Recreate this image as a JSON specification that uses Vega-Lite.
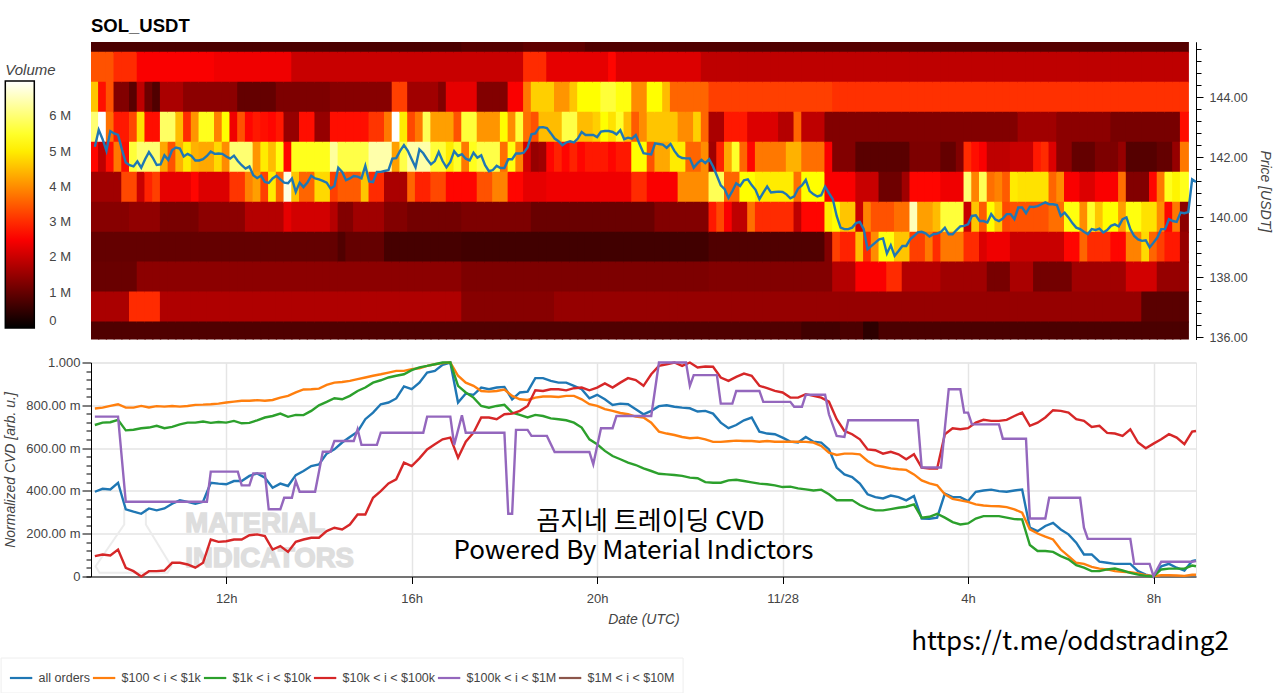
{"$schema":"https://vega.github.io/schema/vega-lite/v6.json","background":"white","padding":{"top":16,"left":0,"right":4,"bottom":0},"bounds":"flush","spacing":22.5,
"config":{"view":{"stroke":null},"axis":{"labelFont":"Liberation Sans","labelFontSize":13,"labelColor":"#444444","titleFont":"Liberation Sans","titleFontSize":14,"titleFontStyle":"italic","titleFontWeight":"normal","titleColor":"#444444","domainColor":"#000000","tickColor":"#000000"},"legend":{"labelFont":"Liberation Sans","titleFont":"Liberation Sans"}},
"datasets":{
"heat":[
{"t":"2025-11-27T09:10Z","146":0.75,"145":3.4,"144":4.6,"143":6,"142":2.6,"141":1.6,"140":1.35,"139":1,"138":1.05,"137":1.7,"136":0.8},
{"t":"2025-11-27T09:20Z","146":0.75,"145":3.4,"144":2.7,"143":7,"142":1.9,"141":1.6,"140":1.35,"139":1,"138":1.05,"137":1.7,"136":0.8},
{"t":"2025-11-27T09:30Z","146":0.75,"145":3.4,"144":3.4,"143":3.7,"142":2.7,"141":1.6,"140":1.35,"139":1,"138":1.05,"137":1.7,"136":0.8},
{"t":"2025-11-27T09:40Z","146":0.75,"145":3,"144":1.3,"143":2.8,"142":3.8,"141":1.6,"140":1.35,"139":1,"138":1.05,"137":1.7,"136":0.8},
{"t":"2025-11-27T09:50Z","146":0.75,"145":3,"144":1.3,"143":2.8,"142":2.7,"141":3.3,"140":1.35,"139":1,"138":1.05,"137":1.7,"136":0.8},
{"t":"2025-11-27T10:00Z","146":0.75,"145":3,"144":0.9,"143":3.3,"142":5.6,"141":3.3,"140":1.45,"139":1,"138":1.05,"137":3,"136":0.8},
{"t":"2025-11-27T10:10Z","146":0.75,"145":2.5,"144":1.9,"143":4.9,"142":6,"141":2,"140":1.45,"139":1,"138":1.4,"137":3,"136":0.8},
{"t":"2025-11-27T10:20Z","146":0.75,"145":2.5,"144":1.1,"143":2.7,"142":6,"141":2.9,"140":1.45,"139":1,"138":1.4,"137":3,"136":0.8},
{"t":"2025-11-27T10:30Z","146":0.75,"145":2.5,"144":0.8,"143":2.7,"142":6,"141":3.2,"140":1.45,"139":1,"138":1.4,"137":3,"136":0.8},
{"t":"2025-11-27T10:40Z","146":0.75,"145":2.5,"144":1.7,"143":5.9,"142":4.3,"141":2.3,"140":1.2,"139":1,"138":1.4,"137":1.75,"136":0.8},
{"t":"2025-11-27T10:50Z","146":0.75,"145":2.5,"144":1.7,"143":5.9,"142":3.4,"141":2.3,"140":1.2,"139":1,"138":1.4,"137":1.75,"136":0.8},
{"t":"2025-11-27T11:00Z","146":0.75,"145":2.5,"144":1.7,"143":4.5,"142":4.4,"141":2.3,"140":1.2,"139":1,"138":1.4,"137":1.75,"136":0.8},
{"t":"2025-11-27T11:10Z","146":0.75,"145":2.5,"144":1.4,"143":3,"142":5,"141":2.3,"140":1.2,"139":1,"138":1.4,"137":1.75,"136":0.8},
{"t":"2025-11-27T11:20Z","146":0.75,"145":2.5,"144":1.4,"143":4.1,"142":4.4,"141":2.6,"140":1.2,"139":1,"138":1.4,"137":1.75,"136":0.8},
{"t":"2025-11-27T11:30Z","146":0.75,"145":2.5,"144":1.4,"143":5.4,"142":4.3,"141":2.2,"140":1.4,"139":1,"138":1.4,"137":1.75,"136":0.8},
{"t":"2025-11-27T11:40Z","146":0.75,"145":2.5,"144":1.4,"143":5.4,"142":4.3,"141":2.2,"140":1.4,"139":1,"138":1.4,"137":1.75,"136":0.8},
{"t":"2025-11-27T11:50Z","146":0.75,"145":2.4,"144":1.4,"143":3.9,"142":4.8,"141":2.2,"140":1.4,"139":1,"138":1.4,"137":1.75,"136":0.8},
{"t":"2025-11-27T12:00Z","146":0.75,"145":2.4,"144":1.4,"143":5.2,"142":4,"141":2.2,"140":1.4,"139":1,"138":1.4,"137":1.75,"136":0.8},
{"t":"2025-11-27T12:10Z","146":0.75,"145":2.4,"144":1.4,"143":2.4,"142":6,"141":3.1,"140":1.4,"139":1,"138":1.4,"137":1.75,"136":0.8},
{"t":"2025-11-27T12:20Z","146":0.75,"145":2.4,"144":1,"143":3.4,"142":6,"141":3.1,"140":1.4,"139":1,"138":1.4,"137":1.75,"136":0.8},
{"t":"2025-11-27T12:30Z","146":0.75,"145":2.4,"144":1,"143":2.6,"142":6,"141":3.9,"140":1.8,"139":1,"138":1.4,"137":1.75,"136":0.8},
{"t":"2025-11-27T12:40Z","146":0.75,"145":2.4,"144":1,"143":2.8,"142":4.1,"141":4.2,"140":1.8,"139":1,"138":1.4,"137":1.75,"136":0.8},
{"t":"2025-11-27T12:50Z","146":0.75,"145":2.4,"144":1,"143":2.7,"142":5,"141":3.2,"140":1.8,"139":1,"138":1.4,"137":1.75,"136":0.8},
{"t":"2025-11-27T13:00Z","146":0.75,"145":2.4,"144":1,"143":2.6,"142":4.5,"141":5,"140":1.8,"139":1,"138":1.4,"137":1.75,"136":0.8},
{"t":"2025-11-27T13:10Z","146":0.75,"145":2.4,"144":1.25,"143":2.8,"142":5.3,"141":3.6,"140":1.8,"139":1,"138":1.4,"137":1.75,"136":0.8},
{"t":"2025-11-27T13:20Z","146":0.75,"145":2.4,"144":1.25,"143":1.5,"142":2.6,"141":6.8,"140":2.3,"139":1,"138":1.4,"137":1.75,"136":0.8},
{"t":"2025-11-27T13:30Z","146":0.75,"145":2,"144":1.25,"143":1.5,"142":5.4,"141":4.6,"140":2.1,"139":1,"138":1.4,"137":1.75,"136":0.8},
{"t":"2025-11-27T13:40Z","146":0.75,"145":2,"144":1.25,"143":2.7,"142":5.4,"141":3.6,"140":2.1,"139":1,"138":1.4,"137":1.75,"136":0.8},
{"t":"2025-11-27T13:50Z","146":0.75,"145":2,"144":1.25,"143":2.7,"142":5.4,"141":3.6,"140":2.1,"139":1,"138":1.4,"137":1.75,"136":0.8},
{"t":"2025-11-27T14:00Z","146":0.75,"145":2,"144":1.25,"143":1.5,"142":5.4,"141":4.8,"140":2.1,"139":1,"138":1.4,"137":1.75,"136":0.8},
{"t":"2025-11-27T14:10Z","146":0.75,"145":2,"144":1.25,"143":1.5,"142":5.4,"141":4.8,"140":2.1,"139":1,"138":1.4,"137":1.75,"136":0.8},
{"t":"2025-11-27T14:20Z","146":0.75,"145":2,"144":1.35,"143":2.7,"142":6.3,"141":3.2,"140":1.8,"139":1,"138":1.4,"137":1.75,"136":0.8},
{"t":"2025-11-27T14:30Z","146":0.75,"145":2,"144":1.35,"143":2.7,"142":5.7,"141":3.5,"140":1.3,"139":0.8,"138":1.4,"137":1.75,"136":0.8},
{"t":"2025-11-27T14:40Z","146":0.75,"145":2,"144":1.35,"143":2.7,"142":5.7,"141":3.5,"140":1.3,"139":1,"138":1.4,"137":1.75,"136":0.8},
{"t":"2025-11-27T14:50Z","146":0.75,"145":2,"144":1.35,"143":2.7,"142":5.7,"141":3.5,"140":1.6,"139":1,"138":1.4,"137":1.75,"136":0.8},
{"t":"2025-11-27T15:00Z","146":0.75,"145":2,"144":1.35,"143":2.7,"142":5.7,"141":4.6,"140":1.6,"139":1,"138":1.4,"137":1.75,"136":0.8},
{"t":"2025-11-27T15:10Z","146":0.75,"145":2,"144":1.35,"143":3.1,"142":6.4,"141":3,"140":1.6,"139":1,"138":1.4,"137":1.75,"136":0.8},
{"t":"2025-11-27T15:20Z","146":0.75,"145":2,"144":1.35,"143":3.1,"142":6.4,"141":3,"140":1.6,"139":1,"138":1.4,"137":1.75,"136":0.8},
{"t":"2025-11-27T15:30Z","146":0.75,"145":2,"144":1.35,"143":3.8,"142":6.4,"141":1.7,"140":1.3,"139":0.7,"138":1.4,"137":1.75,"136":0.8},
{"t":"2025-11-27T15:40Z","146":0.75,"145":2,"144":3.2,"143":7,"142":4.2,"141":1.7,"140":1.3,"139":0.7,"138":1.4,"137":1.75,"136":0.8},
{"t":"2025-11-27T15:50Z","146":0.75,"145":2,"144":3.2,"143":5,"142":5.7,"141":1.7,"140":1.3,"139":0.7,"138":1.4,"137":1.75,"136":0.8},
{"t":"2025-11-27T16:00Z","146":0.75,"145":2,"144":1.6,"143":3.3,"142":6.4,"141":3.6,"140":1.15,"139":0.7,"138":1.4,"137":1.75,"136":0.8},
{"t":"2025-11-27T16:10Z","146":0.75,"145":2,"144":1.6,"143":3.8,"142":6.4,"141":2.9,"140":1.15,"139":0.7,"138":1.4,"137":1.75,"136":0.8},
{"t":"2025-11-27T16:20Z","146":0.75,"145":2,"144":1.6,"143":5.8,"142":6.4,"141":2.9,"140":1.15,"139":0.7,"138":1.4,"137":1.75,"136":0.8},
{"t":"2025-11-27T16:30Z","146":0.75,"145":2,"144":1.6,"143":4.2,"142":5.6,"141":3.3,"140":1.15,"139":0.7,"138":1.4,"137":1.75,"136":0.8},
{"t":"2025-11-27T16:40Z","146":0.75,"145":2,"144":1.3,"143":4.2,"142":5.6,"141":3.3,"140":1.15,"139":0.7,"138":1.4,"137":1.75,"136":0.8},
{"t":"2025-11-27T16:50Z","146":0.75,"145":2,"144":2.3,"143":4.2,"142":5,"141":2.6,"140":1.15,"139":0.7,"138":1.4,"137":1.75,"136":0.8},
{"t":"2025-11-27T17:00Z","146":0.75,"145":2,"144":2.3,"143":3.4,"142":5.5,"141":2.6,"140":1.15,"139":0.7,"138":1.4,"137":1.75,"136":0.8},
{"t":"2025-11-27T17:10Z","146":0.85,"145":2,"144":2.3,"143":5.6,"142":3.8,"141":2.6,"140":1.25,"139":0.65,"138":1.25,"137":1.35,"136":0.8},
{"t":"2025-11-27T17:20Z","146":0.85,"145":2,"144":2.3,"143":5.6,"142":5.4,"141":2.6,"140":1.25,"139":0.65,"138":1.25,"137":1.35,"136":0.8},
{"t":"2025-11-27T17:30Z","146":0.85,"145":2,"144":1.3,"143":4.1,"142":5.7,"141":3.4,"140":1.25,"139":0.65,"138":1.25,"137":1.35,"136":0.8},
{"t":"2025-11-27T17:40Z","146":0.85,"145":2,"144":1.3,"143":4.1,"142":5.7,"141":3.4,"140":1.25,"139":0.65,"138":1.25,"137":1.35,"136":0.8},
{"t":"2025-11-27T17:50Z","146":0.85,"145":2,"144":1.3,"143":4.1,"142":5.7,"141":3.9,"140":1.25,"139":0.65,"138":1.25,"137":1.35,"136":0.8},
{"t":"2025-11-27T18:00Z","146":0.85,"145":2,"144":1.3,"143":5.2,"142":3.7,"141":3.9,"140":1.25,"139":0.65,"138":1.25,"137":1.35,"136":0.8},
{"t":"2025-11-27T18:10Z","146":0.85,"145":2,"144":2.5,"143":4,"142":5.3,"141":2.6,"140":1.25,"139":0.65,"138":1.25,"137":1.35,"136":0.8},
{"t":"2025-11-27T18:20Z","146":0.85,"145":2,"144":2.5,"143":5.6,"142":3.9,"141":2.6,"140":1.25,"139":0.65,"138":1.25,"137":1.35,"136":0.8},
{"t":"2025-11-27T18:30Z","146":0.95,"145":3,"144":3.8,"143":3.7,"142":2.1,"141":2.3,"140":1.25,"139":0.65,"138":1.25,"137":1.35,"136":0.8},
{"t":"2025-11-27T18:40Z","146":0.95,"145":3,"144":4.7,"143":3.4,"142":1.5,"141":2.3,"140":1.05,"139":0.65,"138":1.25,"137":1.35,"136":0.8},
{"t":"2025-11-27T18:50Z","146":0.95,"145":3,"144":4.7,"143":4.5,"142":1.6,"141":2.3,"140":1.05,"139":0.65,"138":1.25,"137":1.35,"136":0.8},
{"t":"2025-11-27T19:00Z","146":0.95,"145":2.3,"144":4.7,"143":4.5,"142":2.6,"141":2.4,"140":1.05,"139":0.65,"138":1.25,"137":1.35,"136":0.8},
{"t":"2025-11-27T19:10Z","146":0.95,"145":2.3,"144":4.1,"143":4.5,"142":2.9,"141":2.4,"140":1.05,"139":0.65,"138":1.25,"137":1.5,"136":0.8},
{"t":"2025-11-27T19:20Z","146":0.95,"145":2.3,"144":4.1,"143":5.7,"142":2.6,"141":2.4,"140":1.05,"139":0.65,"138":1.25,"137":1.5,"136":0.8},
{"t":"2025-11-27T19:30Z","146":0.95,"145":2.3,"144":4.6,"143":5.7,"142":2.9,"141":2.4,"140":1.05,"139":0.65,"138":1.25,"137":1.5,"136":0.8},
{"t":"2025-11-27T19:40Z","146":0.95,"145":2.3,"144":5.2,"143":4.5,"142":2.6,"141":2.4,"140":1.05,"139":0.65,"138":1.25,"137":1.5,"136":0.8},
{"t":"2025-11-27T19:50Z","146":0.8,"145":2.3,"144":5.2,"143":4.5,"142":2.8,"141":2.4,"140":1.05,"139":0.65,"138":1.25,"137":1.5,"136":0.8},
{"t":"2025-11-27T20:00Z","146":0.8,"145":2.3,"144":5.2,"143":4.7,"142":2.8,"141":2.4,"140":1.05,"139":0.65,"138":1.25,"137":1.5,"136":0.8},
{"t":"2025-11-27T20:10Z","146":0.8,"145":2.3,"144":5.6,"143":5.2,"142":2.8,"141":2.4,"140":1.05,"139":0.65,"138":1.25,"137":1.5,"136":0.8},
{"t":"2025-11-27T20:20Z","146":0.8,"145":2.6,"144":5.6,"143":4.9,"142":2.6,"141":2.4,"140":1.05,"139":0.65,"138":1.25,"137":1.5,"136":0.8},
{"t":"2025-11-27T20:30Z","146":0.8,"145":2.2,"144":5.3,"143":5.5,"142":2.8,"141":2.4,"140":1.05,"139":0.65,"138":1.25,"137":1.5,"136":0.8},
{"t":"2025-11-27T20:40Z","146":0.8,"145":2.2,"144":5.3,"143":4.5,"142":2.8,"141":2.4,"140":1.05,"139":0.65,"138":1.25,"137":1.5,"136":0.8},
{"t":"2025-11-27T20:50Z","146":0.8,"145":2.2,"144":4,"143":3.5,"142":5.2,"141":3,"140":1.05,"139":0.65,"138":1.25,"137":1.5,"136":0.8},
{"t":"2025-11-27T21:00Z","146":0.8,"145":2.2,"144":4,"143":4,"142":5.2,"141":3,"140":1.05,"139":0.65,"138":1.25,"137":1.5,"136":0.8},
{"t":"2025-11-27T21:10Z","146":0.8,"145":2.2,"144":5.2,"143":4.6,"142":3.4,"141":2.5,"140":1.05,"139":0.65,"138":1.25,"137":1.5,"136":0.8},
{"t":"2025-11-27T21:20Z","146":0.8,"145":2.2,"144":5.2,"143":4.6,"142":4.3,"141":2.5,"140":1.3,"139":0.65,"138":1.25,"137":1.5,"136":0.8},
{"t":"2025-11-27T21:30Z","146":0.8,"145":2.2,"144":4.5,"143":4.6,"142":4.3,"141":2.5,"140":1.3,"139":0.65,"138":1.25,"137":1.5,"136":0.8},
{"t":"2025-11-27T21:40Z","146":0.8,"145":2.2,"144":3.6,"143":4.6,"142":5,"141":2.5,"140":1.3,"139":0.65,"138":1.25,"137":1.5,"136":0.8},
{"t":"2025-11-27T21:50Z","146":0.8,"145":2.2,"144":3.6,"143":4,"142":5,"141":4,"140":1.3,"139":0.65,"138":1.25,"137":1.5,"136":0.8},
{"t":"2025-11-27T22:00Z","146":0.8,"145":2.2,"144":3.6,"143":4,"142":3.6,"141":4,"140":1.3,"139":0.65,"138":1.25,"137":1.5,"136":0.8},
{"t":"2025-11-27T22:10Z","146":0.8,"145":2.2,"144":3.6,"143":4.7,"142":3.6,"141":4,"140":1.3,"139":0.65,"138":1.25,"137":1.5,"136":0.8},
{"t":"2025-11-27T22:20Z","146":0.8,"145":1.9,"144":3.6,"143":3.6,"142":4,"141":4,"140":1.3,"139":0.65,"138":1.25,"137":1.5,"136":0.8},
{"t":"2025-11-27T22:30Z","146":0.8,"145":1.9,"144":3.2,"143":1.7,"142":1.6,"141":5.8,"140":2.8,"139":0.8,"138":1.3,"137":1.5,"136":0.8},
{"t":"2025-11-27T22:40Z","146":0.8,"145":1.9,"144":3.2,"143":1.7,"142":2.9,"141":5.8,"140":3.3,"139":0.8,"138":1.3,"137":1.5,"136":0.8},
{"t":"2025-11-27T22:50Z","146":0.8,"145":1.9,"144":3.2,"143":2.8,"142":4.3,"141":3.6,"140":2.5,"139":0.8,"138":1.3,"137":1.5,"136":0.8},
{"t":"2025-11-27T23:00Z","146":0.8,"145":1.9,"144":3.2,"143":2.8,"142":5.5,"141":3.6,"140":1.9,"139":0.8,"138":1.3,"137":1.5,"136":0.8},
{"t":"2025-11-27T23:10Z","146":0.8,"145":1.9,"144":3.2,"143":2.8,"142":3.6,"141":5.2,"140":1.9,"139":0.8,"138":1.3,"137":1.5,"136":0.8},
{"t":"2025-11-27T23:20Z","146":0.8,"145":1.9,"144":3.2,"143":2.2,"142":2.6,"141":5.2,"140":3.7,"139":0.8,"138":1.3,"137":1.5,"136":0.8},
{"t":"2025-11-27T23:30Z","146":0.8,"145":1.9,"144":3.2,"143":2.2,"142":3.8,"141":5,"140":3,"139":0.8,"138":1.3,"137":1.5,"136":0.8},
{"t":"2025-11-27T23:40Z","146":0.8,"145":1.9,"144":3.2,"143":2.2,"142":3.8,"141":5,"140":3,"139":0.8,"138":1.3,"137":1.5,"136":0.8},
{"t":"2025-11-27T23:50Z","146":0.8,"145":1.9,"144":3.2,"143":2.2,"142":3.8,"141":5,"140":3,"139":0.8,"138":1.3,"137":1.5,"136":0.8},
{"t":"2025-11-28T00:00Z","146":0.8,"145":1.9,"144":3.2,"143":1.8,"142":3.8,"141":5,"140":3,"139":0.8,"138":1.3,"137":1.5,"136":0.8},
{"t":"2025-11-28T00:10Z","146":0.8,"145":1.9,"144":3.2,"143":1.8,"142":4.4,"141":5,"140":3,"139":0.8,"138":1.3,"137":1.5,"136":0.8},
{"t":"2025-11-28T00:20Z","146":0.8,"145":1.9,"144":3.2,"143":3.6,"142":4.4,"141":3.7,"140":1.9,"139":0.8,"138":1.3,"137":1.5,"136":0.8},
{"t":"2025-11-28T00:30Z","146":0.8,"145":1.9,"144":3.2,"143":1.9,"142":3.7,"141":5.2,"140":2.6,"139":0.8,"138":1.3,"137":1.5,"136":0.65},
{"t":"2025-11-28T00:40Z","146":0.8,"145":1.9,"144":3.2,"143":1.9,"142":3.7,"141":5.2,"140":2.6,"139":0.8,"138":1.3,"137":1.5,"136":0.65},
{"t":"2025-11-28T00:50Z","146":0.8,"145":1.9,"144":3.2,"143":1.9,"142":3.7,"141":5.2,"140":2.6,"139":0.8,"138":1.3,"137":1.5,"136":0.65},
{"t":"2025-11-28T01:00Z","146":0.8,"145":1.9,"144":3.2,"143":1.3,"142":2.5,"141":2.5,"140":5,"139":1.3,"138":1.3,"137":1.5,"136":0.65},
{"t":"2025-11-28T01:10Z","146":0.8,"145":1.9,"144":3.05,"143":1.3,"142":1.3,"141":2.5,"140":5.2,"139":3.2,"138":1.8,"137":1.5,"136":0.65},
{"t":"2025-11-28T01:20Z","146":0.85,"145":1.9,"144":3.05,"143":1.3,"142":1.3,"141":2.5,"140":4.6,"139":2.9,"138":1.8,"137":1.5,"136":0.75},
{"t":"2025-11-28T01:30Z","146":0.85,"145":1.9,"144":3.05,"143":1.3,"142":1.3,"141":2.5,"140":4.6,"139":2.9,"138":1.8,"137":1.5,"136":0.75},
{"t":"2025-11-28T01:40Z","146":0.85,"145":1.9,"144":3.05,"143":1.3,"142":0.9,"141":2,"140":2,"139":4.5,"138":2.5,"137":1.5,"136":0.75},
{"t":"2025-11-28T01:50Z","146":0.85,"145":1.9,"144":3.05,"143":1.3,"142":0.9,"141":2,"140":3.9,"139":3,"138":2.5,"137":1.5,"136":0.45},
{"t":"2025-11-28T02:00Z","146":0.85,"145":1.9,"144":3.05,"143":1.3,"142":0.9,"141":2,"140":3.4,"139":4,"138":2.5,"137":1.5,"136":0.45},
{"t":"2025-11-28T02:10Z","146":0.85,"145":1.9,"144":3.05,"143":1.3,"142":0.9,"141":1.1,"140":3.4,"139":5.3,"138":2.5,"137":1.5,"136":0.75},
{"t":"2025-11-28T02:20Z","146":0.85,"145":1.9,"144":3.05,"143":1.3,"142":0.9,"141":1.1,"140":3.4,"139":5.3,"138":3,"137":1.5,"136":0.75},
{"t":"2025-11-28T02:30Z","146":0.85,"145":1.9,"144":3.05,"143":1.3,"142":0.9,"141":1.1,"140":3.7,"139":4.6,"138":3,"137":1.5,"136":0.75},
{"t":"2025-11-28T02:40Z","146":0.85,"145":1.9,"144":3.05,"143":1.3,"142":0.9,"141":1.6,"140":3.7,"139":4.6,"138":1.8,"137":1.5,"136":0.75},
{"t":"2025-11-28T02:50Z","146":0.85,"145":1.9,"144":3.05,"143":1.3,"142":1.25,"141":2.6,"140":6.5,"139":3.2,"138":1.8,"137":1.5,"136":0.75},
{"t":"2025-11-28T03:00Z","146":0.85,"145":1.9,"144":3.05,"143":1.3,"142":1.25,"141":2.6,"140":4.2,"139":3.2,"138":1.8,"137":1.5,"136":0.75},
{"t":"2025-11-28T03:10Z","146":0.85,"145":1.9,"144":3.05,"143":1.3,"142":1.25,"141":2.6,"140":4.2,"139":3.8,"138":1.8,"137":1.5,"136":0.75},
{"t":"2025-11-28T03:20Z","146":0.85,"145":1.9,"144":3.05,"143":1.3,"142":1.25,"141":2.6,"140":4.5,"139":3,"138":1.8,"137":1.5,"136":0.75},
{"t":"2025-11-28T03:30Z","146":0.85,"145":1.9,"144":3.05,"143":1.3,"142":1,"141":2.4,"140":5.6,"139":3.8,"138":1.6,"137":1.5,"136":0.75},
{"t":"2025-11-28T03:40Z","146":0.85,"145":1.9,"144":3.05,"143":1.3,"142":1,"141":2.4,"140":5.6,"139":3.8,"138":1.6,"137":1.5,"136":0.75},
{"t":"2025-11-28T03:50Z","146":0.85,"145":1.9,"144":3.05,"143":1.3,"142":1.3,"141":2.4,"140":5.6,"139":3.8,"138":1.6,"137":1.5,"136":0.75},
{"t":"2025-11-28T04:00Z","146":0.85,"145":1.9,"144":3.05,"143":1.3,"142":3,"141":6,"140":2,"139":3,"138":1.6,"137":1.5,"136":0.75},
{"t":"2025-11-28T04:10Z","146":0.85,"145":1.9,"144":3.05,"143":1.3,"142":2.7,"141":3.9,"140":4.6,"139":3,"138":1.6,"137":1.5,"136":0.75},
{"t":"2025-11-28T04:20Z","146":0.85,"145":1.9,"144":3.05,"143":1.3,"142":2.5,"141":5.8,"140":3.5,"139":2.2,"138":1.6,"137":1.5,"136":0.75},
{"t":"2025-11-28T04:30Z","146":0.85,"145":1.9,"144":3.05,"143":1.3,"142":1.9,"141":3.7,"140":5.2,"139":2.4,"138":1.2,"137":1.5,"136":0.75},
{"t":"2025-11-28T04:40Z","146":0.85,"145":1.9,"144":3.05,"143":1.3,"142":1.9,"141":3.9,"140":4.6,"139":2.4,"138":1.2,"137":1.5,"136":0.75},
{"t":"2025-11-28T04:50Z","146":0.85,"145":1.9,"144":3.05,"143":1.3,"142":1.9,"141":3.5,"140":3.3,"139":2.4,"138":1.2,"137":1.5,"136":0.75},
{"t":"2025-11-28T05:00Z","146":0.85,"145":1.9,"144":3.05,"143":1.3,"142":2,"141":5,"140":3.4,"139":2,"138":1.7,"137":1.5,"136":0.75},
{"t":"2025-11-28T05:10Z","146":0.85,"145":1.9,"144":3.05,"143":1.6,"142":2,"141":4.9,"140":3.4,"139":2,"138":1.7,"137":1.5,"136":0.75},
{"t":"2025-11-28T05:20Z","146":0.85,"145":1.9,"144":3.05,"143":1.6,"142":2,"141":4.9,"140":3.4,"139":2,"138":1.7,"137":1.5,"136":0.75},
{"t":"2025-11-28T05:30Z","146":0.85,"145":1.9,"144":3.05,"143":1.6,"142":2.8,"141":4.9,"140":3.4,"139":2,"138":1.15,"137":1.5,"136":0.75},
{"t":"2025-11-28T05:40Z","146":0.85,"145":1.9,"144":3.05,"143":1.6,"142":3,"141":4.9,"140":3.4,"139":2,"138":1.15,"137":1.5,"136":0.75},
{"t":"2025-11-28T05:50Z","146":0.85,"145":1.9,"144":3.05,"143":1.6,"142":2.2,"141":3.6,"140":3.7,"139":2,"138":1.15,"137":1.5,"136":0.75},
{"t":"2025-11-28T06:00Z","146":0.85,"145":1.9,"144":3.05,"143":1.4,"142":1.4,"141":4,"140":3.7,"139":2,"138":1.15,"137":1.5,"136":0.75},
{"t":"2025-11-28T06:10Z","146":0.85,"145":1.9,"144":3.05,"143":1.4,"142":1.4,"141":2.5,"140":5.3,"139":2.6,"138":1.15,"137":1.5,"136":0.75},
{"t":"2025-11-28T06:20Z","146":0.85,"145":1.9,"144":3.05,"143":1.4,"142":1,"141":2.5,"140":5.3,"139":2.6,"138":1.6,"137":1.5,"136":0.75},
{"t":"2025-11-28T06:30Z","146":0.85,"145":1.9,"144":3.05,"143":1.4,"142":1,"141":2.2,"140":4,"139":3.6,"138":1.6,"137":1.5,"136":0.75},
{"t":"2025-11-28T06:40Z","146":0.85,"145":1.9,"144":3.05,"143":1.4,"142":1,"141":2.2,"140":5.5,"139":3,"138":1.6,"137":1.5,"136":0.75},
{"t":"2025-11-28T06:50Z","146":0.85,"145":1.9,"144":3.05,"143":1.4,"142":1.25,"141":2.5,"140":4.6,"139":3,"138":1.6,"137":1.5,"136":0.75},
{"t":"2025-11-28T07:00Z","146":0.85,"145":1.9,"144":3.05,"143":1.4,"142":1.25,"141":2.5,"140":5.2,"139":3,"138":1.6,"137":1.5,"136":0.75},
{"t":"2025-11-28T07:10Z","146":0.85,"145":1.9,"144":3.05,"143":1.2,"142":1.25,"141":2.5,"140":5.2,"139":2.6,"138":1.6,"137":1.5,"136":0.75},
{"t":"2025-11-28T07:20Z","146":0.85,"145":1.9,"144":3.05,"143":1.2,"142":1.5,"141":3.7,"140":4.2,"139":2.6,"138":1.6,"137":1.5,"136":0.75},
{"t":"2025-11-28T07:30Z","146":0.85,"145":1.9,"144":3.05,"143":1.2,"142":0.85,"141":1.3,"140":5.3,"139":3.9,"138":2.1,"137":1.5,"136":0.75},
{"t":"2025-11-28T07:40Z","146":0.85,"145":1.9,"144":3.05,"143":1.2,"142":0.85,"141":1.3,"140":5.3,"139":3.9,"138":2.1,"137":1.5,"136":0.75},
{"t":"2025-11-28T07:50Z","146":0.85,"145":1.9,"144":3.05,"143":1.2,"142":0.85,"141":1.3,"140":4.9,"139":4.8,"138":2.1,"137":0.9,"136":0.75},
{"t":"2025-11-28T08:00Z","146":0.85,"145":1.9,"144":3.05,"143":1.2,"142":0.85,"141":2.6,"140":4.9,"139":3.6,"138":2.1,"137":0.9,"136":0.75},
{"t":"2025-11-28T08:10Z","146":0.85,"145":1.9,"144":3.05,"143":1.2,"142":1,"141":3.8,"140":4,"139":3.2,"138":1.5,"137":0.9,"136":0.75},
{"t":"2025-11-28T08:20Z","146":0.85,"145":1.9,"144":3.05,"143":1.2,"142":1,"141":5.4,"140":2.6,"139":2.8,"138":1.5,"137":0.9,"136":0.75},
{"t":"2025-11-28T08:30Z","146":0.85,"145":1.9,"144":3.05,"143":1.2,"142":1.5,"141":5.1,"140":3.8,"139":2.8,"138":1.5,"137":0.9,"136":0.75},
{"t":"2025-11-28T08:40Z","146":0.85,"145":1.9,"144":3.05,"143":2.7,"142":3.8,"141":5.4,"140":1.4,"139":1.5,"138":1.5,"137":0.9,"136":0.75}
],
"price":[
{"t":"2025-11-27T09:10Z","price":142.35},{"t":"2025-11-27T09:15Z","price":142.91},{"t":"2025-11-27T09:20Z","price":142.6},{"t":"2025-11-27T09:25Z","price":142.21},{"t":"2025-11-27T09:30Z","price":142.87},{"t":"2025-11-27T09:35Z","price":142.79},{"t":"2025-11-27T09:40Z","price":142.74},{"t":"2025-11-27T09:45Z","price":142.26},{"t":"2025-11-27T09:50Z","price":141.82},{"t":"2025-11-27T09:55Z","price":141.73},
{"t":"2025-11-27T10:00Z","price":141.69},{"t":"2025-11-27T10:05Z","price":141.86},{"t":"2025-11-27T10:10Z","price":141.65},{"t":"2025-11-27T10:15Z","price":141.93},{"t":"2025-11-27T10:20Z","price":142.17},{"t":"2025-11-27T10:25Z","price":141.98},{"t":"2025-11-27T10:30Z","price":141.74},{"t":"2025-11-27T10:35Z","price":141.76},{"t":"2025-11-27T10:40Z","price":142.06},{"t":"2025-11-27T10:45Z","price":141.91},{"t":"2025-11-27T10:50Z","price":142.24},{"t":"2025-11-27T10:55Z","price":142.32},
{"t":"2025-11-27T11:00Z","price":142.29},{"t":"2025-11-27T11:05Z","price":142.02},{"t":"2025-11-27T11:10Z","price":142.11},{"t":"2025-11-27T11:15Z","price":142.04},{"t":"2025-11-27T11:20Z","price":141.89},{"t":"2025-11-27T11:25Z","price":141.89},{"t":"2025-11-27T11:30Z","price":141.93},{"t":"2025-11-27T11:35Z","price":142.04},{"t":"2025-11-27T11:40Z","price":142.19},{"t":"2025-11-27T11:45Z","price":142.11},{"t":"2025-11-27T11:50Z","price":142.12},{"t":"2025-11-27T11:55Z","price":142.11},
{"t":"2025-11-27T12:00Z","price":142.02},{"t":"2025-11-27T12:05Z","price":141.95},{"t":"2025-11-27T12:10Z","price":142.05},{"t":"2025-11-27T12:15Z","price":141.87},{"t":"2025-11-27T12:20Z","price":141.73},{"t":"2025-11-27T12:25Z","price":141.62},{"t":"2025-11-27T12:30Z","price":141.69},{"t":"2025-11-27T12:35Z","price":141.4},{"t":"2025-11-27T12:40Z","price":141.3},{"t":"2025-11-27T12:45Z","price":141.38},{"t":"2025-11-27T12:50Z","price":141.17},{"t":"2025-11-27T12:55Z","price":141.14},
{"t":"2025-11-27T13:00Z","price":141.29},{"t":"2025-11-27T13:05Z","price":141.38},{"t":"2025-11-27T13:10Z","price":141.26},{"t":"2025-11-27T13:15Z","price":141.15},{"t":"2025-11-27T13:20Z","price":141.13},{"t":"2025-11-27T13:25Z","price":141.29},{"t":"2025-11-27T13:30Z","price":140.84},{"t":"2025-11-27T13:35Z","price":141.15},{"t":"2025-11-27T13:40Z","price":141},{"t":"2025-11-27T13:45Z","price":141.15},{"t":"2025-11-27T13:50Z","price":141.38},{"t":"2025-11-27T13:55Z","price":141.29},
{"t":"2025-11-27T14:00Z","price":141.26},{"t":"2025-11-27T14:05Z","price":141.21},{"t":"2025-11-27T14:10Z","price":141.15},{"t":"2025-11-27T14:15Z","price":140.95},{"t":"2025-11-27T14:20Z","price":141.04},{"t":"2025-11-27T14:25Z","price":141.65},{"t":"2025-11-27T14:30Z","price":141.51},{"t":"2025-11-27T14:35Z","price":141.23},{"t":"2025-11-27T14:40Z","price":141.29},{"t":"2025-11-27T14:45Z","price":141.37},{"t":"2025-11-27T14:50Z","price":141.35},{"t":"2025-11-27T14:55Z","price":141.29},
{"t":"2025-11-27T15:00Z","price":141.71},{"t":"2025-11-27T15:05Z","price":141.19},{"t":"2025-11-27T15:10Z","price":141.17},{"t":"2025-11-27T15:15Z","price":141.51},{"t":"2025-11-27T15:20Z","price":141.51},{"t":"2025-11-27T15:25Z","price":141.54},{"t":"2025-11-27T15:30Z","price":141.57},{"t":"2025-11-27T15:35Z","price":141.95},{"t":"2025-11-27T15:40Z","price":141.97},{"t":"2025-11-27T15:45Z","price":142.21},{"t":"2025-11-27T15:50Z","price":142.4},{"t":"2025-11-27T15:55Z","price":142.21},
{"t":"2025-11-27T16:00Z","price":141.93},{"t":"2025-11-27T16:05Z","price":141.66},{"t":"2025-11-27T16:10Z","price":142.26},{"t":"2025-11-27T16:15Z","price":142.13},{"t":"2025-11-27T16:20Z","price":141.93},{"t":"2025-11-27T16:25Z","price":141.76},{"t":"2025-11-27T16:30Z","price":141.87},{"t":"2025-11-27T16:35Z","price":142.17},{"t":"2025-11-27T16:40Z","price":141.87},{"t":"2025-11-27T16:45Z","price":141.66},{"t":"2025-11-27T16:50Z","price":141.84},{"t":"2025-11-27T16:55Z","price":142.2},
{"t":"2025-11-27T17:00Z","price":142.04},{"t":"2025-11-27T17:05Z","price":142.1},{"t":"2025-11-27T17:10Z","price":141.95},{"t":"2025-11-27T17:15Z","price":141.89},{"t":"2025-11-27T17:20Z","price":142.15},{"t":"2025-11-27T17:25Z","price":141.98},{"t":"2025-11-27T17:30Z","price":142.06},{"t":"2025-11-27T17:35Z","price":141.73},{"t":"2025-11-27T17:40Z","price":141.53},{"t":"2025-11-27T17:45Z","price":141.57},{"t":"2025-11-27T17:50Z","price":141.71},{"t":"2025-11-27T17:55Z","price":141.64},
{"t":"2025-11-27T18:00Z","price":141.64},{"t":"2025-11-27T18:05Z","price":141.93},{"t":"2025-11-27T18:10Z","price":141.93},{"t":"2025-11-27T18:15Z","price":142.12},{"t":"2025-11-27T18:20Z","price":142.12},{"t":"2025-11-27T18:25Z","price":142.15},{"t":"2025-11-27T18:30Z","price":142.32},{"t":"2025-11-27T18:35Z","price":142.76},{"t":"2025-11-27T18:40Z","price":142.79},{"t":"2025-11-27T18:45Z","price":142.99},{"t":"2025-11-27T18:50Z","price":143},{"t":"2025-11-27T18:55Z","price":142.97},
{"t":"2025-11-27T19:00Z","price":142.8},{"t":"2025-11-27T19:05Z","price":142.62},{"t":"2025-11-27T19:10Z","price":142.53},{"t":"2025-11-27T19:15Z","price":142.4},{"t":"2025-11-27T19:20Z","price":142.49},{"t":"2025-11-27T19:25Z","price":142.53},{"t":"2025-11-27T19:30Z","price":142.49},{"t":"2025-11-27T19:35Z","price":142.62},{"t":"2025-11-27T19:40Z","price":142.84},{"t":"2025-11-27T19:45Z","price":142.74},{"t":"2025-11-27T19:50Z","price":142.74},{"t":"2025-11-27T19:55Z","price":142.74},
{"t":"2025-11-27T20:00Z","price":142.67},{"t":"2025-11-27T20:05Z","price":142.85},{"t":"2025-11-27T20:10Z","price":142.87},{"t":"2025-11-27T20:15Z","price":142.87},{"t":"2025-11-27T20:20Z","price":142.84},{"t":"2025-11-27T20:25Z","price":142.76},{"t":"2025-11-27T20:30Z","price":142.9},{"t":"2025-11-27T20:35Z","price":142.6},{"t":"2025-11-27T20:40Z","price":142.65},{"t":"2025-11-27T20:45Z","price":142.62},{"t":"2025-11-27T20:50Z","price":142.74},{"t":"2025-11-27T20:55Z","price":142.43},
{"t":"2025-11-27T21:00Z","price":142.13},{"t":"2025-11-27T21:05Z","price":142.11},{"t":"2025-11-27T21:10Z","price":142.09},{"t":"2025-11-27T21:15Z","price":142.46},{"t":"2025-11-27T21:20Z","price":142.44},{"t":"2025-11-27T21:25Z","price":142.42},{"t":"2025-11-27T21:30Z","price":142.31},{"t":"2025-11-27T21:35Z","price":142.44},{"t":"2025-11-27T21:40Z","price":142.21},{"t":"2025-11-27T21:45Z","price":142.04},{"t":"2025-11-27T21:50Z","price":141.97},{"t":"2025-11-27T21:55Z","price":141.96},
{"t":"2025-11-27T22:00Z","price":141.96},{"t":"2025-11-27T22:05Z","price":141.65},{"t":"2025-11-27T22:10Z","price":141.8},{"t":"2025-11-27T22:15Z","price":141.91},{"t":"2025-11-27T22:20Z","price":141.8},{"t":"2025-11-27T22:25Z","price":141.93},{"t":"2025-11-27T22:30Z","price":141.69},{"t":"2025-11-27T22:35Z","price":141.38},{"t":"2025-11-27T22:40Z","price":141.06},{"t":"2025-11-27T22:45Z","price":140.93},{"t":"2025-11-27T22:50Z","price":140.64},{"t":"2025-11-27T22:55Z","price":140.87},
{"t":"2025-11-27T23:00Z","price":141.13},{"t":"2025-11-27T23:05Z","price":141.04},{"t":"2025-11-27T23:10Z","price":141.23},{"t":"2025-11-27T23:15Z","price":141.26},{"t":"2025-11-27T23:20Z","price":141.07},{"t":"2025-11-27T23:25Z","price":140.91},{"t":"2025-11-27T23:30Z","price":140.6},{"t":"2025-11-27T23:35Z","price":140.82},{"t":"2025-11-27T23:40Z","price":141.02},{"t":"2025-11-27T23:45Z","price":140.82},{"t":"2025-11-27T23:50Z","price":140.84},{"t":"2025-11-27T23:55Z","price":140.85},
{"t":"2025-11-28T00:00Z","price":140.84},{"t":"2025-11-28T00:05Z","price":140.76},{"t":"2025-11-28T00:10Z","price":140.63},{"t":"2025-11-28T00:15Z","price":140.69},{"t":"2025-11-28T00:20Z","price":140.95},{"t":"2025-11-28T00:25Z","price":141.06},{"t":"2025-11-28T00:30Z","price":141.24},{"t":"2025-11-28T00:35Z","price":140.87},{"t":"2025-11-28T00:40Z","price":140.76},{"t":"2025-11-28T00:45Z","price":140.69},{"t":"2025-11-28T00:50Z","price":140.73},{"t":"2025-11-28T00:55Z","price":141.02},
{"t":"2025-11-28T01:00Z","price":140.8},{"t":"2025-11-28T01:05Z","price":140.6},{"t":"2025-11-28T01:10Z","price":140.04},{"t":"2025-11-28T01:15Z","price":139.65},{"t":"2025-11-28T01:20Z","price":139.6},{"t":"2025-11-28T01:25Z","price":139.6},{"t":"2025-11-28T01:30Z","price":139.65},{"t":"2025-11-28T01:35Z","price":139.8},{"t":"2025-11-28T01:40Z","price":139.84},{"t":"2025-11-28T01:45Z","price":139.6},{"t":"2025-11-28T01:50Z","price":138.93},{"t":"2025-11-28T01:55Z","price":139.04},
{"t":"2025-11-28T02:00Z","price":139.15},{"t":"2025-11-28T02:05Z","price":139.26},{"t":"2025-11-28T02:10Z","price":139.29},{"t":"2025-11-28T02:15Z","price":138.79},{"t":"2025-11-28T02:20Z","price":139.06},{"t":"2025-11-28T02:25Z","price":138.71},{"t":"2025-11-28T02:30Z","price":138.87},{"t":"2025-11-28T02:35Z","price":139.04},{"t":"2025-11-28T02:40Z","price":139.04},{"t":"2025-11-28T02:45Z","price":139.26},{"t":"2025-11-28T02:50Z","price":139.37},{"t":"2025-11-28T02:55Z","price":139.49},
{"t":"2025-11-28T03:00Z","price":139.51},{"t":"2025-11-28T03:05Z","price":139.46},{"t":"2025-11-28T03:10Z","price":139.35},{"t":"2025-11-28T03:15Z","price":139.43},{"t":"2025-11-28T03:20Z","price":139.45},{"t":"2025-11-28T03:25Z","price":139.51},{"t":"2025-11-28T03:30Z","price":139.65},{"t":"2025-11-28T03:35Z","price":139.43},{"t":"2025-11-28T03:40Z","price":139.43},{"t":"2025-11-28T03:45Z","price":139.57},{"t":"2025-11-28T03:50Z","price":139.69},{"t":"2025-11-28T03:55Z","price":139.71},
{"t":"2025-11-28T04:00Z","price":139.76},{"t":"2025-11-28T04:05Z","price":140.04},{"t":"2025-11-28T04:10Z","price":140.06},{"t":"2025-11-28T04:15Z","price":139.87},{"t":"2025-11-28T04:20Z","price":139.87},{"t":"2025-11-28T04:25Z","price":139.82},{"t":"2025-11-28T04:30Z","price":140.1},{"t":"2025-11-28T04:35Z","price":139.93},{"t":"2025-11-28T04:40Z","price":139.87},{"t":"2025-11-28T04:45Z","price":139.95},{"t":"2025-11-28T04:50Z","price":140.1},{"t":"2025-11-28T04:55Z","price":140.1},
{"t":"2025-11-28T05:00Z","price":139.93},{"t":"2025-11-28T05:05Z","price":140.32},{"t":"2025-11-28T05:10Z","price":140.32},{"t":"2025-11-28T05:15Z","price":140.13},{"t":"2025-11-28T05:20Z","price":140.35},{"t":"2025-11-28T05:25Z","price":140.34},{"t":"2025-11-28T05:30Z","price":140.37},{"t":"2025-11-28T05:35Z","price":140.43},{"t":"2025-11-28T05:40Z","price":140.49},{"t":"2025-11-28T05:45Z","price":140.43},{"t":"2025-11-28T05:50Z","price":140.43},{"t":"2025-11-28T05:55Z","price":140.4},
{"t":"2025-11-28T06:00Z","price":140.04},{"t":"2025-11-28T06:05Z","price":140.15},{"t":"2025-11-28T06:10Z","price":139.99},{"t":"2025-11-28T06:15Z","price":139.8},{"t":"2025-11-28T06:20Z","price":139.65},{"t":"2025-11-28T06:25Z","price":139.6},{"t":"2025-11-28T06:30Z","price":139.51},{"t":"2025-11-28T06:35Z","price":139.43},{"t":"2025-11-28T06:40Z","price":139.6},{"t":"2025-11-28T06:45Z","price":139.57},{"t":"2025-11-28T06:50Z","price":139.62},{"t":"2025-11-28T06:55Z","price":139.49},
{"t":"2025-11-28T07:00Z","price":139.57},{"t":"2025-11-28T07:05Z","price":139.71},{"t":"2025-11-28T07:10Z","price":139.76},{"t":"2025-11-28T07:15Z","price":139.69},{"t":"2025-11-28T07:20Z","price":139.93},{"t":"2025-11-28T07:25Z","price":139.99},{"t":"2025-11-28T07:30Z","price":139.6},{"t":"2025-11-28T07:35Z","price":139.37},{"t":"2025-11-28T07:40Z","price":139.26},{"t":"2025-11-28T07:45Z","price":139.21},{"t":"2025-11-28T07:50Z","price":139.23},{"t":"2025-11-28T07:55Z","price":138.99},
{"t":"2025-11-28T08:00Z","price":139.15},{"t":"2025-11-28T08:05Z","price":139.32},{"t":"2025-11-28T08:10Z","price":139.6},{"t":"2025-11-28T08:15Z","price":139.6},{"t":"2025-11-28T08:20Z","price":139.93},{"t":"2025-11-28T08:25Z","price":139.87},{"t":"2025-11-28T08:30Z","price":139.84},{"t":"2025-11-28T08:35Z","price":140.15},{"t":"2025-11-28T08:40Z","price":140.13},{"t":"2025-11-28T08:45Z","price":140.17},{"t":"2025-11-28T08:50Z","price":141.26},{"t":"2025-11-28T08:55Z","price":141.17}
],
"cvd":[
{"t":"2025-11-27T09:10Z","all":0.396,"o100":0.785,"o1k":0.708,"o10k":0.095},
{"t":"2025-11-27T09:20Z","all":0.41,"o100":0.789,"o1k":0.719,"o10k":0.103},
{"t":"2025-11-27T09:30Z","all":0.407,"o100":0.797,"o1k":0.721,"o10k":0.098},
{"t":"2025-11-27T09:40Z","all":0.438,"o100":0.805,"o1k":0.732,"o10k":0.126},
{"t":"2025-11-27T09:50Z","all":0.314,"o100":0.789,"o1k":0.683,"o10k":0.041},
{"t":"2025-11-27T10:00Z","all":0.303,"o100":0.789,"o1k":0.686,"o10k":0.025},
{"t":"2025-11-27T10:10Z","all":0.293,"o100":0.797,"o1k":0.693,"o10k":0},
{"t":"2025-11-27T10:20Z","all":0.318,"o100":0.79,"o1k":0.696,"o10k":0.025},
{"t":"2025-11-27T10:30Z","all":0.309,"o100":0.796,"o1k":0.704,"o10k":0.025},
{"t":"2025-11-27T10:40Z","all":0.318,"o100":0.794,"o1k":0.693,"o10k":0.028},
{"t":"2025-11-27T10:50Z","all":0.34,"o100":0.797,"o1k":0.699,"o10k":0.064},
{"t":"2025-11-27T11:00Z","all":0.356,"o100":0.794,"o1k":0.711,"o10k":0.064},
{"t":"2025-11-27T11:10Z","all":0.349,"o100":0.797,"o1k":0.719,"o10k":0.056},
{"t":"2025-11-27T11:20Z","all":0.34,"o100":0.802,"o1k":0.719,"o10k":0.041},
{"t":"2025-11-27T11:30Z","all":0.349,"o100":0.803,"o1k":0.724,"o10k":0.064},
{"t":"2025-11-27T11:40Z","all":0.438,"o100":0.805,"o1k":0.718,"o10k":0.173},
{"t":"2025-11-27T11:50Z","all":0.434,"o100":0.808,"o1k":0.722,"o10k":0.162},
{"t":"2025-11-27T12:00Z","all":0.431,"o100":0.813,"o1k":0.719,"o10k":0.165},
{"t":"2025-11-27T12:10Z","all":0.446,"o100":0.817,"o1k":0.727,"o10k":0.173},
{"t":"2025-11-27T12:20Z","all":0.446,"o100":0.821,"o1k":0.716,"o10k":0.173},
{"t":"2025-11-27T12:30Z","all":0.47,"o100":0.821,"o1k":0.718,"o10k":0.193},
{"t":"2025-11-27T12:40Z","all":0.482,"o100":0.824,"o1k":0.73,"o10k":0.197},
{"t":"2025-11-27T12:50Z","all":0.462,"o100":0.821,"o1k":0.743,"o10k":0.189},
{"t":"2025-11-27T13:00Z","all":0.415,"o100":0.825,"o1k":0.75,"o10k":0.126},
{"t":"2025-11-27T13:10Z","all":0.434,"o100":0.836,"o1k":0.761,"o10k":0.142},
{"t":"2025-11-27T13:20Z","all":0.423,"o100":0.844,"o1k":0.746,"o10k":0.115},
{"t":"2025-11-27T13:30Z","all":0.474,"o100":0.86,"o1k":0.755,"o10k":0.162},
{"t":"2025-11-27T13:40Z","all":0.493,"o100":0.874,"o1k":0.754,"o10k":0.173},
{"t":"2025-11-27T13:50Z","all":0.516,"o100":0.875,"o1k":0.774,"o10k":0.181},
{"t":"2025-11-27T14:00Z","all":0.524,"o100":0.878,"o1k":0.8,"o10k":0.181},
{"t":"2025-11-27T14:10Z","all":0.574,"o100":0.895,"o1k":0.816,"o10k":0.212},
{"t":"2025-11-27T14:20Z","all":0.594,"o100":0.906,"o1k":0.833,"o10k":0.228},
{"t":"2025-11-27T14:30Z","all":0.626,"o100":0.909,"o1k":0.828,"o10k":0.22},
{"t":"2025-11-27T14:40Z","all":0.652,"o100":0.914,"o1k":0.844,"o10k":0.243},
{"t":"2025-11-27T14:50Z","all":0.677,"o100":0.922,"o1k":0.867,"o10k":0.29},
{"t":"2025-11-27T15:00Z","all":0.735,"o100":0.93,"o1k":0.883,"o10k":0.29},
{"t":"2025-11-27T15:10Z","all":0.766,"o100":0.938,"o1k":0.906,"o10k":0.368},
{"t":"2025-11-27T15:20Z","all":0.805,"o100":0.945,"o1k":0.917,"o10k":0.399},
{"t":"2025-11-27T15:30Z","all":0.813,"o100":0.953,"o1k":0.93,"o10k":0.435},
{"t":"2025-11-27T15:40Z","all":0.832,"o100":0.961,"o1k":0.938,"o10k":0.454},
{"t":"2025-11-27T15:50Z","all":0.888,"o100":0.961,"o1k":0.945,"o10k":0.532},
{"t":"2025-11-27T16:00Z","all":0.875,"o100":0.969,"o1k":0.964,"o10k":0.516},
{"t":"2025-11-27T16:10Z","all":0.906,"o100":0.973,"o1k":0.977,"o10k":0.552},
{"t":"2025-11-27T16:20Z","all":0.953,"o100":0.984,"o1k":0.984,"o10k":0.594},
{"t":"2025-11-27T16:30Z","all":0.961,"o100":0.992,"o1k":0.992,"o10k":0.618},
{"t":"2025-11-27T16:40Z","all":0.989,"o100":0.997,"o1k":1,"o10k":0.641},
{"t":"2025-11-27T16:50Z","all":1,"o100":1,"o1k":1,"o10k":0.649},
{"t":"2025-11-27T17:00Z","all":0.813,"o100":0.938,"o1k":0.891,"o10k":0.555},
{"t":"2025-11-27T17:10Z","all":0.855,"o100":0.906,"o1k":0.86,"o10k":0.63},
{"t":"2025-11-27T17:20Z","all":0.849,"o100":0.891,"o1k":0.836,"o10k":0.672},
{"t":"2025-11-27T17:30Z","all":0.883,"o100":0.867,"o1k":0.797,"o10k":0.743},
{"t":"2025-11-27T17:40Z","all":0.875,"o100":0.864,"o1k":0.789,"o10k":0.743},
{"t":"2025-11-27T17:50Z","all":0.883,"o100":0.867,"o1k":0.797,"o10k":0.735},
{"t":"2025-11-27T18:00Z","all":0.886,"o100":0.874,"o1k":0.802,"o10k":0.758},
{"t":"2025-11-27T18:10Z","all":0.828,"o100":0.844,"o1k":0.766,"o10k":0.761},
{"t":"2025-11-27T18:20Z","all":0.86,"o100":0.828,"o1k":0.755,"o10k":0.774},
{"t":"2025-11-27T18:30Z","all":0.864,"o100":0.825,"o1k":0.743,"o10k":0.797},
{"t":"2025-11-27T18:40Z","all":0.927,"o100":0.836,"o1k":0.755,"o10k":0.87},
{"t":"2025-11-27T18:50Z","all":0.927,"o100":0.841,"o1k":0.75,"o10k":0.867},
{"t":"2025-11-27T19:00Z","all":0.914,"o100":0.841,"o1k":0.739,"o10k":0.875},
{"t":"2025-11-27T19:10Z","all":0.906,"o100":0.839,"o1k":0.735,"o10k":0.875},
{"t":"2025-11-27T19:20Z","all":0.906,"o100":0.844,"o1k":0.73,"o10k":0.87},
{"t":"2025-11-27T19:30Z","all":0.891,"o100":0.844,"o1k":0.719,"o10k":0.88},
{"t":"2025-11-27T19:40Z","all":0.875,"o100":0.828,"o1k":0.696,"o10k":0.883},
{"t":"2025-11-27T19:50Z","all":0.833,"o100":0.805,"o1k":0.641,"o10k":0.87},
{"t":"2025-11-27T20:00Z","all":0.849,"o100":0.797,"o1k":0.618,"o10k":0.883},
{"t":"2025-11-27T20:10Z","all":0.828,"o100":0.782,"o1k":0.587,"o10k":0.902},
{"t":"2025-11-27T20:20Z","all":0.802,"o100":0.774,"o1k":0.563,"o10k":0.883},
{"t":"2025-11-27T20:30Z","all":0.808,"o100":0.764,"o1k":0.548,"o10k":0.906},
{"t":"2025-11-27T20:40Z","all":0.805,"o100":0.758,"o1k":0.532,"o10k":0.927},
{"t":"2025-11-27T20:50Z","all":0.782,"o100":0.747,"o1k":0.521,"o10k":0.918},
{"t":"2025-11-27T21:00Z","all":0.758,"o100":0.743,"o1k":0.505,"o10k":0.891},
{"t":"2025-11-27T21:10Z","all":0.774,"o100":0.719,"o1k":0.493,"o10k":0.945},
{"t":"2025-11-27T21:20Z","all":0.796,"o100":0.677,"o1k":0.48,"o10k":0.984},
{"t":"2025-11-27T21:30Z","all":0.8,"o100":0.668,"o1k":0.477,"o10k":0.992},
{"t":"2025-11-27T21:40Z","all":0.793,"o100":0.661,"o1k":0.474,"o10k":1},
{"t":"2025-11-27T21:50Z","all":0.789,"o100":0.652,"o1k":0.47,"o10k":0.984},
{"t":"2025-11-27T22:00Z","all":0.786,"o100":0.646,"o1k":0.462,"o10k":1},
{"t":"2025-11-27T22:10Z","all":0.771,"o100":0.649,"o1k":0.459,"o10k":0.977},
{"t":"2025-11-27T22:20Z","all":0.774,"o100":0.641,"o1k":0.441,"o10k":0.981},
{"t":"2025-11-27T22:30Z","all":0.761,"o100":0.629,"o1k":0.438,"o10k":0.98},
{"t":"2025-11-27T22:40Z","all":0.719,"o100":0.629,"o1k":0.438,"o10k":0.93},
{"t":"2025-11-27T22:50Z","all":0.693,"o100":0.632,"o1k":0.449,"o10k":0.914},
{"t":"2025-11-27T23:00Z","all":0.708,"o100":0.635,"o1k":0.452,"o10k":0.933},
{"t":"2025-11-27T23:10Z","all":0.73,"o100":0.633,"o1k":0.446,"o10k":0.948},
{"t":"2025-11-27T23:20Z","all":0.743,"o100":0.633,"o1k":0.44,"o10k":0.938},
{"t":"2025-11-27T23:30Z","all":0.677,"o100":0.63,"o1k":0.434,"o10k":0.891},
{"t":"2025-11-27T23:40Z","all":0.668,"o100":0.633,"o1k":0.431,"o10k":0.88},
{"t":"2025-11-27T23:50Z","all":0.665,"o100":0.63,"o1k":0.426,"o10k":0.867},
{"t":"2025-11-28T00:00Z","all":0.649,"o100":0.63,"o1k":0.418,"o10k":0.86},
{"t":"2025-11-28T00:10Z","all":0.63,"o100":0.63,"o1k":0.42,"o10k":0.836},
{"t":"2025-11-28T00:20Z","all":0.626,"o100":0.63,"o1k":0.412,"o10k":0.836},
{"t":"2025-11-28T00:30Z","all":0.652,"o100":0.629,"o1k":0.407,"o10k":0.852},
{"t":"2025-11-28T00:40Z","all":0.63,"o100":0.626,"o1k":0.402,"o10k":0.844},
{"t":"2025-11-28T00:50Z","all":0.626,"o100":0.61,"o1k":0.406,"o10k":0.836},
{"t":"2025-11-28T01:00Z","all":0.594,"o100":0.579,"o1k":0.384,"o10k":0.817},
{"t":"2025-11-28T01:10Z","all":0.509,"o100":0.568,"o1k":0.356,"o10k":0.735},
{"t":"2025-11-28T01:20Z","all":0.477,"o100":0.574,"o1k":0.356,"o10k":0.68},
{"t":"2025-11-28T01:30Z","all":0.465,"o100":0.574,"o1k":0.357,"o10k":0.665},
{"t":"2025-11-28T01:40Z","all":0.434,"o100":0.571,"o1k":0.334,"o10k":0.641},
{"t":"2025-11-28T01:50Z","all":0.384,"o100":0.54,"o1k":0.318,"o10k":0.594},
{"t":"2025-11-28T02:00Z","all":0.371,"o100":0.519,"o1k":0.309,"o10k":0.59},
{"t":"2025-11-28T02:10Z","all":0.365,"o100":0.513,"o1k":0.309,"o10k":0.574},
{"t":"2025-11-28T02:20Z","all":0.378,"o100":0.505,"o1k":0.315,"o10k":0.583},
{"t":"2025-11-28T02:30Z","all":0.371,"o100":0.501,"o1k":0.321,"o10k":0.571},
{"t":"2025-11-28T02:40Z","all":0.356,"o100":0.498,"o1k":0.326,"o10k":0.548},
{"t":"2025-11-28T02:50Z","all":0.376,"o100":0.477,"o1k":0.337,"o10k":0.571},
{"t":"2025-11-28T03:00Z","all":0.271,"o100":0.449,"o1k":0.275,"o10k":0.509},
{"t":"2025-11-28T03:10Z","all":0.27,"o100":0.435,"o1k":0.279,"o10k":0.505},
{"t":"2025-11-28T03:20Z","all":0.275,"o100":0.426,"o1k":0.293,"o10k":0.505},
{"t":"2025-11-28T03:30Z","all":0.387,"o100":0.384,"o1k":0.275,"o10k":0.665},
{"t":"2025-11-28T03:40Z","all":0.371,"o100":0.363,"o1k":0.254,"o10k":0.693},
{"t":"2025-11-28T03:50Z","all":0.371,"o100":0.356,"o1k":0.243,"o10k":0.688},
{"t":"2025-11-28T04:00Z","all":0.353,"o100":0.349,"o1k":0.248,"o10k":0.693},
{"t":"2025-11-28T04:10Z","all":0.396,"o100":0.337,"o1k":0.271,"o10k":0.719},
{"t":"2025-11-28T04:20Z","all":0.402,"o100":0.332,"o1k":0.282,"o10k":0.732},
{"t":"2025-11-28T04:30Z","all":0.406,"o100":0.329,"o1k":0.282,"o10k":0.727},
{"t":"2025-11-28T04:40Z","all":0.399,"o100":0.328,"o1k":0.282,"o10k":0.727},
{"t":"2025-11-28T04:50Z","all":0.396,"o100":0.324,"o1k":0.275,"o10k":0.732},
{"t":"2025-11-28T05:00Z","all":0.402,"o100":0.314,"o1k":0.268,"o10k":0.75},
{"t":"2025-11-28T05:10Z","all":0.406,"o100":0.298,"o1k":0.267,"o10k":0.766},
{"t":"2025-11-28T05:20Z","all":0.228,"o100":0.22,"o1k":0.147,"o10k":0.704},
{"t":"2025-11-28T05:30Z","all":0.212,"o100":0.201,"o1k":0.119,"o10k":0.719},
{"t":"2025-11-28T05:40Z","all":0.236,"o100":0.186,"o1k":0.119,"o10k":0.743},
{"t":"2025-11-28T05:50Z","all":0.251,"o100":0.173,"o1k":0.115,"o10k":0.777},
{"t":"2025-11-28T06:00Z","all":0.22,"o100":0.126,"o1k":0.095,"o10k":0.774},
{"t":"2025-11-28T06:10Z","all":0.197,"o100":0.095,"o1k":0.08,"o10k":0.766},
{"t":"2025-11-28T06:20Z","all":0.158,"o100":0.064,"o1k":0.053,"o10k":0.735},
{"t":"2025-11-28T06:30Z","all":0.103,"o100":0.059,"o1k":0.041,"o10k":0.727},
{"t":"2025-11-28T06:40Z","all":0.103,"o100":0.045,"o1k":0.025,"o10k":0.699},
{"t":"2025-11-28T06:50Z","all":0.069,"o100":0.037,"o1k":0.025,"o10k":0.704},
{"t":"2025-11-28T07:00Z","all":0.064,"o100":0.033,"o1k":0.033,"o10k":0.671},
{"t":"2025-11-28T07:10Z","all":0.059,"o100":0.025,"o1k":0.037,"o10k":0.668},
{"t":"2025-11-28T07:20Z","all":0.059,"o100":0.022,"o1k":0.028,"o10k":0.657},
{"t":"2025-11-28T07:30Z","all":0.059,"o100":0.02,"o1k":0.017,"o10k":0.688},
{"t":"2025-11-28T07:40Z","all":0.025,"o100":0.014,"o1k":0.009,"o10k":0.626},
{"t":"2025-11-28T07:50Z","all":0.009,"o100":0.006,"o1k":0.003,"o10k":0.599},
{"t":"2025-11-28T08:00Z","all":0,"o100":0.002,"o1k":0,"o10k":0.621},
{"t":"2025-11-28T08:10Z","all":0.048,"o100":0.006,"o1k":0.033,"o10k":0.641},
{"t":"2025-11-28T08:20Z","all":0.059,"o100":0.006,"o1k":0.037,"o10k":0.665},
{"t":"2025-11-28T08:30Z","all":0.041,"o100":0.005,"o1k":0.037,"o10k":0.649},
{"t":"2025-11-28T08:40Z","all":0.028,"o100":0.003,"o1k":0.037,"o10k":0.618},
{"t":"2025-11-28T08:50Z","all":0.072,"o100":0.008,"o1k":0.051,"o10k":0.677},
{"t":"2025-11-28T08:55Z","all":0.076,"o100":0.008,"o1k":0.048,"o10k":0.68}
],
"purple":[
{"t":"2025-11-27T09:10Z","v":0.747},{"t":"2025-11-27T09:40Z","v":0.747},{"t":"2025-11-27T09:50Z","v":0.349},{"t":"2025-11-27T11:35Z","v":0.349},{"t":"2025-11-27T11:40Z","v":0.49},{"t":"2025-11-27T12:15Z","v":0.49},{"t":"2025-11-27T12:20Z","v":0.426},{"t":"2025-11-27T12:30Z","v":0.426},{"t":"2025-11-27T12:35Z","v":0.482},{"t":"2025-11-27T12:50Z","v":0.482},{"t":"2025-11-27T12:55Z","v":0.314},{"t":"2025-11-27T13:10Z","v":0.314},{"t":"2025-11-27T13:15Z","v":0.368},{"t":"2025-11-27T13:25Z","v":0.368},{"t":"2025-11-27T13:30Z","v":0.446},{"t":"2025-11-27T13:35Z","v":0.396},{"t":"2025-11-27T13:55Z","v":0.396},{"t":"2025-11-27T14:05Z","v":0.583},{"t":"2025-11-27T14:15Z","v":0.583},{"t":"2025-11-27T14:20Z","v":0.633},{"t":"2025-11-27T14:45Z","v":0.633},{"t":"2025-11-27T14:50Z","v":0.688},{"t":"2025-11-27T14:55Z","v":0.615},{"t":"2025-11-27T15:15Z","v":0.615},{"t":"2025-11-27T15:20Z","v":0.672},{"t":"2025-11-27T16:15Z","v":0.672},{"t":"2025-11-27T16:20Z","v":0.747},{"t":"2025-11-27T16:50Z","v":0.747},{"t":"2025-11-27T16:55Z","v":0.615},{"t":"2025-11-27T17:05Z","v":0.753},{"t":"2025-11-27T17:10Z","v":0.672},{"t":"2025-11-27T18:00Z","v":0.672},{"t":"2025-11-27T18:05Z","v":0.293},{"t":"2025-11-27T18:10Z","v":0.293},{"t":"2025-11-27T18:15Z","v":0.685},{"t":"2025-11-27T18:30Z","v":0.685},{"t":"2025-11-27T18:35Z","v":0.657},{"t":"2025-11-27T18:55Z","v":0.657},{"t":"2025-11-27T19:05Z","v":0.582},{"t":"2025-11-27T19:50Z","v":0.582},{"t":"2025-11-27T19:55Z","v":0.524},{"t":"2025-11-27T20:05Z","v":0.693},{"t":"2025-11-27T20:20Z","v":0.693},{"t":"2025-11-27T20:25Z","v":0.75},{"t":"2025-11-27T21:10Z","v":0.75},{"t":"2025-11-27T21:20Z","v":1},{"t":"2025-11-27T21:55Z","v":1},{"t":"2025-11-27T22:00Z","v":0.891},{"t":"2025-11-27T22:05Z","v":0.941},{"t":"2025-11-27T22:35Z","v":0.941},{"t":"2025-11-27T22:40Z","v":0.808},{"t":"2025-11-27T22:55Z","v":0.808},{"t":"2025-11-27T23:00Z","v":0.867},{"t":"2025-11-27T23:30Z","v":0.867},{"t":"2025-11-27T23:35Z","v":0.816},{"t":"2025-11-28T00:10Z","v":0.816},{"t":"2025-11-28T00:15Z","v":0.793},{"t":"2025-11-28T00:25Z","v":0.793},{"t":"2025-11-28T00:30Z","v":0.849},{"t":"2025-11-28T00:55Z","v":0.849},{"t":"2025-11-28T01:00Z","v":0.758},{"t":"2025-11-28T01:10Z","v":0.657},{"t":"2025-11-28T01:20Z","v":0.652},{"t":"2025-11-28T01:25Z","v":0.73},{"t":"2025-11-28T02:55Z","v":0.73},{"t":"2025-11-28T03:00Z","v":0.509},{"t":"2025-11-28T03:25Z","v":0.509},{"t":"2025-11-28T03:35Z","v":0.875},{"t":"2025-11-28T03:50Z","v":0.875},{"t":"2025-11-28T03:55Z","v":0.766},{"t":"2025-11-28T04:00Z","v":0.766},{"t":"2025-11-28T04:05Z","v":0.711},{"t":"2025-11-28T04:40Z","v":0.711},{"t":"2025-11-28T04:45Z","v":0.644},{"t":"2025-11-28T05:15Z","v":0.644},{"t":"2025-11-28T05:20Z","v":0.271},{"t":"2025-11-28T05:40Z","v":0.271},{"t":"2025-11-28T05:45Z","v":0.368},{"t":"2025-11-28T06:25Z","v":0.368},{"t":"2025-11-28T06:30Z","v":0.228},{"t":"2025-11-28T06:35Z","v":0.176},{"t":"2025-11-28T07:30Z","v":0.176},{"t":"2025-11-28T07:35Z","v":0.059},{"t":"2025-11-28T07:55Z","v":0.059},{"t":"2025-11-28T08:00Z","v":0.002},{"t":"2025-11-28T08:10Z","v":0.069},{"t":"2025-11-28T08:50Z","v":0.069},{"t":"2025-11-28T08:55Z","v":0.072}
],
"flask":[
{"i":1,"t":"2025-11-27T09:48Z","v":0.32},{"i":2,"t":"2025-11-27T09:48Z","v":0.243},{"i":3,"t":"2025-11-27T09:11Z","v":0.048},{"i":4,"t":"2025-11-27T09:16Z","v":0.017},{"i":5,"t":"2025-11-27T10:44Z","v":0.017},{"i":6,"t":"2025-11-27T10:49Z","v":0.048},{"i":7,"t":"2025-11-27T10:16Z","v":0.243},{"i":8,"t":"2025-11-27T10:16Z","v":0.32}
],
"watermark":[
{"t":"2025-11-27T11:07Z","v":0.245,"label":"MATERIAL"},{"t":"2025-11-27T11:07Z","v":0.08,"label":"INDICATORS"}
],
"notes":[
{"t":"2025-11-27T21:09Z","v":0.255,"label":"곰지네 트레이딩 CVD"},{"t":"2025-11-27T20:47Z","v":0.118,"label":"Powered By Material Indictors"},{"t":"2025-11-28T06:12Z","v":-0.305,"label":"https://t.me/oddstrading2"}
]
},
"vconcat":[
{"width":1105,"height":297.5,
"title":{"text":"SOL_USDT","anchor":"start","frame":"group","font":"Liberation Sans","fontSize":18.5,"fontWeight":"bold","color":"#000000","offset":7},
"layer":[
{"data":{"name":"heat"},"transform":[{"fold":["146","145","144","143","142","141","140","139","138","137","136"],"as":["level","volume"]}],
"mark":{"type":"rect","width":9,"height":31,"clip":true},
"encoding":{
"x":{"field":"t","type":"temporal","axis":null,"scale":{"type":"utc","domain":["2025-11-27T09:05Z","2025-11-28T08:55Z"]}},
"y":{"field":"level","type":"quantitative","scale":{"domain":[135.92,145.84],"nice":false,"zero":false},"axis":{"orient":"right","title":"Price [USDT]","values":[136,138,140,142,144],"format":".2f","grid":false,"tickSize":7,"labelFontSize":12.5,"labelPadding":6,"titlePadding":10}},
"fill":{"field":"volume","type":"quantitative","scale":{"domain":[0,2.55,5.2,7],"range":["#000000","#ff0000","#ffff00","#ffffff"],"interpolate":"rgb"},
"legend":{"orient":"none","legendX":-85.7,"legendY":21,"title":"Volume","titleFontStyle":"italic","titleFontWeight":"normal","titleFontSize":15,"titleColor":"#444444","titlePadding":3,"gradientLength":247,"gradientThickness":29,"gradientStrokeColor":"#000000","gradientStrokeWidth":1.5,"values":[0,1,2,3,4,5,6],"labelExpr":"datum.value==0?'0':datum.value+' M'","labelBaseline":"middle","labelFontSize":13,"labelColor":"#444444","labelOffset":15,"labelOverlap":false}}
}},
{"data":{"name":"price"},"mark":{"type":"line","color":"#1f77b4","strokeWidth":2.4},
"encoding":{
"x":{"field":"t","type":"temporal","axis":null},
"y":{"field":"price","type":"quantitative","axis":{"orient":"right","title":null,"labels":false,"grid":false,"domain":true,"tickSize":5,"values":[136,136.4,136.8,137.2,137.6,138,138.4,138.8,139.2,139.6,140,140.4,140.8,141.2,141.6,142,142.4,142.8,143.2,143.6,144,144.4,144.8,145.2,145.6]}}
}}
],
"resolve":{"axis":{"y":"independent"}}
},
{"width":1105,"height":214,"view":{"stroke":"#e5e5e5"},
"encoding":{"x":{"field":"t","type":"temporal","scale":{"type":"utc","domain":["2025-11-27T09:05Z","2025-11-28T08:55Z"]},"axis":{"title":"Date (UTC)","values":[1764244800000,1764259200000,1764273600000,1764288000000,1764302400000,1764316800000],"labelExpr":"utchours(datum.value)==0?'11/28':utchours(datum.value)+'h'","grid":true,"gridColor":"#e5e5e5","gridWidth":1.5,"tickSize":7,"labelPadding":9,"titlePadding":7}}},
"layer":[
{"data":{"name":"flask"},"mark":{"type":"line","color":"#ececec","strokeWidth":2},
"encoding":{
"y":{"field":"v","type":"quantitative","scale":{"domain":[0,1],"nice":false},"axis":{"orient":"left","title":"Normalized CVD [arb. u.]","values":[0,0.2,0.4,0.6,0.8,1],"labelExpr":"datum.value==0?'0':datum.value==1?'1.000':format(datum.value*1000,'.2f')+' m'","grid":true,"gridColor":"#e5e5e5","gridWidth":1.5,"tickSize":9,"labelPadding":2,"titlePadding":8}},
"order":{"field":"i"}
}},
{"data":{"name":"watermark"},"mark":{"type":"text","align":"left","font":"Liberation Sans","fontWeight":"bold","fontSize":27.5,"color":"#dedede","stroke":"#dedede","strokeWidth":1.5},
"encoding":{"y":{"field":"v","type":"quantitative","axis":null},"text":{"field":"label"}}},
{"data":{"name":"cvd"},"transform":[{"fold":["all","o100","o1k","o10k"],"as":["series","value"]}],"mark":{"type":"line","strokeWidth":2.4},
"encoding":{
"y":{"field":"value","type":"quantitative","axis":{"orient":"left","title":null,"labels":false,"grid":false,"tickSize":5,"values":[0,0.04,0.08,0.12,0.16,0.24,0.28,0.32,0.36,0.44,0.48,0.52,0.56,0.64,0.68,0.72,0.76,0.84,0.88,0.92,0.96]}},
"color":{"field":"series","type":"nominal","scale":{"domain":["all","o100","o1k","o10k","o100k","o1m"],"range":["#1f77b4","#ff7f0e","#2ca02c","#d62728","#9467bd","#8c564b"]},
"legend":{"orient":"none","direction":"horizontal","columns":6,"legendX":-90.4,"legendY":615.5,"title":null,"symbolType":"stroke","symbolSize":500,"symbolStrokeWidth":2.2,"labelFontSize":12.5,"labelColor":"#444444","labelOffset":5,"columnPadding":-3,"padding":8,"fillColor":"#ffffff","strokeColor":"#eeeeee","labelExpr":"{all:'all orders',o100:'$100 < i < $1k',o1k:'$1k < i < $10k',o10k:'$10k < i < $100k',o100k:'$100k < i < $1M',o1m:'$1M < i < $10M'}[datum.value]"}}
}},
{"data":{"name":"purple"},"mark":{"type":"line","strokeWidth":2.4},
"encoding":{
"y":{"field":"v","type":"quantitative","axis":null},
"color":{"datum":"o100k"}
}},
{"data":{"name":"notes"},"mark":{"type":"text","font":"Noto Sans CJK KR","fontSize":26,"color":"#000000"},
"encoding":{"y":{"field":"v","type":"quantitative","axis":null},"text":{"field":"label"}}}
],
"resolve":{"axis":{"y":"independent"}}
}
]
}
